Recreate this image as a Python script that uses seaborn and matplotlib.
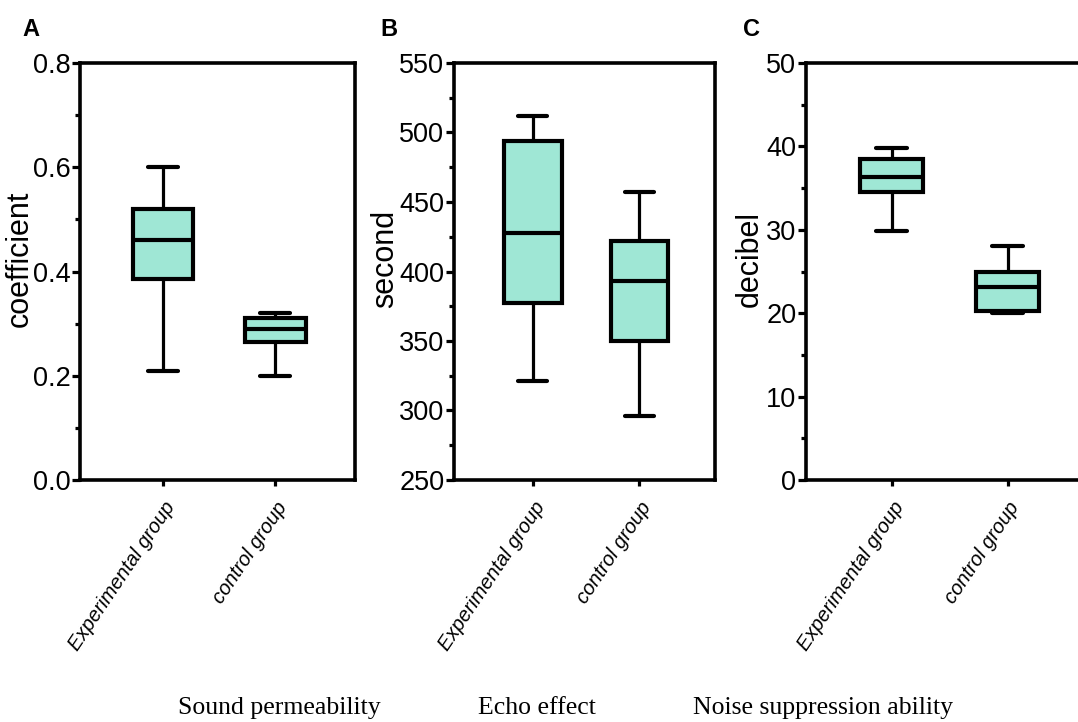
import matplotlib
matplotlib.use("Agg")
import matplotlib.pyplot as plt
from matplotlib.ticker import MultipleLocator, FormatStrFormatter
import seaborn as sns
import pandas as pd

# ---- data (five-number summaries: min, Q1, median, Q3, max)
groups = ["Experimental group", "control group"]

perm_exp = [0.21, 0.385, 0.46, 0.52, 0.60]
perm_ctl = [0.20, 0.265, 0.29, 0.31, 0.32]

echo_exp = [321, 377, 428, 494, 512]
echo_ctl = [296, 350, 393, 422, 457]

noise_exp = [29.9, 34.5, 36.3, 38.5, 39.8]
noise_ctl = [20.0, 20.3, 23.1, 24.9, 28.0]

ylabels = ["coefficient", "second", "decibel"]
ylims = [(0, 0.8), (250, 550), (0, 50)]
major_steps = [0.2, 50, 10]
minor_steps = [0.1, 25, 5]
tick_formats = ["%.1f", "%d", "%d"]
panel_letters = ["A", "B", "C"]
bottom_titles = ["Sound permeability", "Echo effect", "Noise suppression ability"]

box_color = "#9FE7D5"

sns.set_theme(style="white")
plt.rcParams["font.family"] = ["Liberation Sans", "DejaVu Sans"]
plt.rcParams["text.color"] = "black"
plt.rcParams["axes.labelcolor"] = "black"
plt.rcParams["xtick.color"] = "black"
plt.rcParams["ytick.color"] = "black"

fig = plt.figure(figsize=(10.78, 7.22), dpi=100)

axes_rects = [
    [80 / 1078, 1 - 480 / 722, 275 / 1078, 417 / 722],
    [454 / 1078, 1 - 480 / 722, 261 / 1078, 417 / 722],
    [806 / 1078, 1 - 480 / 722, 284 / 1078, 417 / 722],
]
label_x = [-0.163, -0.207, -0.144]

datasets = [(perm_exp, perm_ctl), (echo_exp, echo_ctl), (noise_exp, noise_ctl)]

for i, (rect, (exp_vals, ctl_vals)) in enumerate(zip(axes_rects, datasets)):
    ax = fig.add_axes(rect)
    df = pd.DataFrame({
        "group": [groups[0]] * len(exp_vals) + [groups[1]] * len(ctl_vals),
        "value": list(exp_vals) + list(ctl_vals),
    })
    sns.boxplot(data=df, x="group", y="value", order=groups, ax=ax,
                whis=(0, 100), width=0.54, color=box_color, saturation=1,
                linecolor="black", linewidth=2.3, showfliers=False,
                boxprops={"linewidth": 3.0}, medianprops={"linewidth": 3.0},
                capprops={"linewidth": 3.0}, whiskerprops={"linewidth": 2.3})
    ax.set_xlim(-0.74, 1.71)
    ax.yaxis.set_major_locator(MultipleLocator(major_steps[i]))
    ax.yaxis.set_minor_locator(MultipleLocator(minor_steps[i]))
    ax.yaxis.set_major_formatter(FormatStrFormatter(tick_formats[i]))
    ax.set_ylim(*ylims[i])
    for s in ax.spines.values():
        s.set_linewidth(2.6)
        s.set_color("black")
    ax.tick_params(axis="y", which="major", direction="out", length=6, width=2.3,
                   color="black", left=True, pad=1, labelsize=19.5)
    ax.tick_params(axis="y", which="minor", direction="out", length=3.5, width=2.3,
                   color="black", left=True)
    ax.tick_params(axis="x", which="major", direction="out", length=4, width=2.3,
                   color="black", bottom=True, pad=9)
    ax.set_xticks(range(len(groups)))
    ax.set_xticklabels(groups, rotation=56, ha="right", rotation_mode="anchor",
                       fontsize=14.5, style="italic")
    ax.set_xlabel("")
    ax.set_ylabel(ylabels[i], fontsize=22)
    ax.yaxis.set_label_coords(label_x[i], 0.53)
    ax.grid(False)

letter_x = [31, 389, 751]
for lx, letter in zip(letter_x, panel_letters):
    fig.text(lx / 1078, 1 - 29 / 722, letter, fontsize=17, fontweight="bold",
             ha="center", va="center")

title_x = [279, 537, 823]
for tx, t in zip(title_x, bottom_titles):
    fig.text(tx / 1078, 1 - 708 / 722, t, fontsize=18.5, ha="center", va="center",
             family=["Liberation Serif", "DejaVu Serif"])

fig.savefig("out.png", dpi=100)
